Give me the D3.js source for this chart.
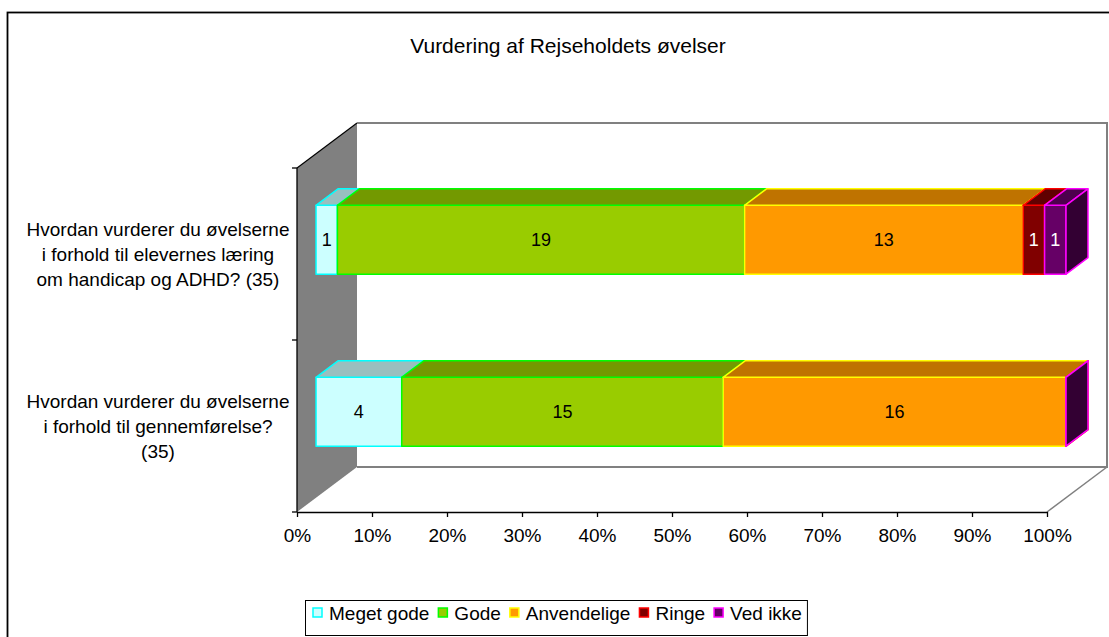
<!DOCTYPE html>
<html>
<head>
<meta charset="utf-8">
<script src="https://cdn.jsdelivr.net/npm/d3@7"></script>
<style>
  body { margin: 0; background: #fff; }
  text { font-family: "Liberation Sans", Arial, sans-serif; fill: #000; }
</style>
</head>
<body>
<svg id="chart" width="1109" height="637"></svg>
<script>
// data
var categories = [
  ["Hvordan vurderer du øvelserne", "i forhold til elevernes læring", "om handicap og ADHD? (35)"],
  ["Hvordan vurderer du øvelserne", "i forhold til gennemførelse?", "(35)"]
];
var seriesNames = ["Meget gode", "Gode", "Anvendelige", "Ringe", "Ved ikke"];
var megetGode   = [1, 4];
var gode        = [19, 15];
var anvendelige = [13, 16];
var ringe       = [1, 0];
var vedIkke     = [1, 0];
var tickValues  = [0, 0.1, 0.2, 0.3, 0.4, 0.5, 0.6, 0.7, 0.8, 0.9, 1];

var fills   = ["#CCFFFF", "#99CC00", "#FF9900", "#800000", "#660066"];
var strokes = ["#00FFFF", "#00FF00", "#FFFF00", "#FF0000", "#FF00FF"];
var labelColors = ["#000", "#000", "#000", "#fff", "#fff"];

var seriesValues = [megetGode, gode, anvendelige, ringe, vedIkke];

// layout
var plot = {left: 297, right: 1047, top: 168, bottom: 512};
var depth = {dx: 60, dy: -45};
var barD0 = 0.317, barD1 = 0.683;

var svg = d3.select("#chart");

// outer chart border
svg.append("rect")
    .attr("x", 7.5).attr("y", 12.5)
    .attr("width", 1200).attr("height", 700)
    .attr("fill", "none").attr("stroke", "#000").attr("stroke-width", 1.8);

// title
svg.append("text")
    .attr("x", 568).attr("y", 53)
    .attr("text-anchor", "middle")
    .style("font-size", "21px")
    .text("Vurdering af Rejseholdets øvelser");

var x = d3.scaleLinear().domain([0, 1]).range([plot.left, plot.right]);
var y = d3.scaleBand().domain(d3.range(categories.length)).range([plot.top, plot.bottom]);

function proj(px, py, d) { return [px + depth.dx * d, py + depth.dy * d]; }
function poly(pts) { return pts.map(function(p) { return p.join(","); }).join(" "); }
function shade(c, f) { var r = d3.rgb(c); return d3.rgb(r.r * f, r.g * f, r.b * f).toString(); }

// left side wall
svg.append("polygon")
    .attr("points", poly([proj(plot.left, plot.top, 0), proj(plot.left, plot.top, 1),
                          proj(plot.left, plot.bottom, 1), proj(plot.left, plot.bottom, 0)]))
    .attr("fill", "#808080").attr("stroke", "none");
svg.append("line")
    .attr("x1", plot.left).attr("y1", plot.top)
    .attr("x2", proj(plot.left, plot.top, 1)[0]).attr("y2", proj(plot.left, plot.top, 1)[1])
    .attr("stroke", "#000").attr("stroke-width", 1.2);

// back wall outline
var bTL = proj(plot.left, plot.top, 1), bTR = proj(plot.right, plot.top, 1),
    bBR = proj(plot.right, plot.bottom, 1), bBL = proj(plot.left, plot.bottom, 1);
svg.append("polyline")
    .attr("points", poly([bTL, bTR, bBR, bBL]))
    .attr("fill", "none").attr("stroke", "#808080").attr("stroke-width", 2);
svg.append("line")
    .attr("x1", plot.right).attr("y1", plot.bottom)
    .attr("x2", bBR[0]).attr("y2", bBR[1])
    .attr("stroke", "#808080").attr("stroke-width", 1.5);

// x axis
var xAxis = svg.append("g")
    .attr("transform", "translate(0," + plot.bottom + ")")
    .call(d3.axisBottom(x).tickValues(tickValues).tickSize(5).tickSizeOuter(0)
        .tickFormat(d3.format(".0%")));
xAxis.select(".domain").attr("stroke", "#000").attr("stroke-width", 1.3);
xAxis.selectAll(".tick line").attr("stroke", "#000").attr("stroke-width", 1.3);
xAxis.selectAll(".tick text")
    .attr("y", 11).attr("dy", "1em")
    .style("font-size", "19px")
    .style("font-family", "Liberation Sans, Arial, sans-serif");

// y axis (category boundaries)
svg.append("line")
    .attr("x1", plot.left).attr("y1", plot.top).attr("x2", plot.left).attr("y2", plot.bottom)
    .attr("stroke", "#000").attr("stroke-width", 1.3);
var bounds = y.domain().map(function(i) { return y(i); }).concat([plot.bottom]);
svg.selectAll(".ytick").data(bounds).enter().append("line")
    .attr("x1", plot.left - 5).attr("x2", plot.left)
    .attr("y1", function(d) { return d; }).attr("y2", function(d) { return d; })
    .attr("stroke", "#000").attr("stroke-width", 1.3);

// category labels
categories.forEach(function(lines, i) {
  var cy = y(i) + y.bandwidth() / 2 + 7;
  var t = svg.append("text")
      .attr("text-anchor", "middle")
      .style("font-size", "19px");
  lines.forEach(function(l, k) {
    t.append("tspan").attr("x", 158).attr("y", cy + (k - 1) * 25).text(l);
  });
});

// bars
var barH = y.bandwidth() * 0.4;
var labels = [];
categories.forEach(function(c, i) {
  var total = d3.sum(seriesValues, function(s) { return s[i]; });
  var yTop = y(i) + (y.bandwidth() - barH) / 2, yBot = yTop + barH;
  var cum = 0;
  var g = svg.append("g");
  seriesValues.forEach(function(s, k) {
    var v0 = cum / total, v1 = (cum + s[i]) / total;
    cum += s[i];
    var x0 = x(v0), x1 = x(v1);
    var f = fills[k], st = strokes[k];
    // front face
    g.append("polygon")
        .attr("points", poly([proj(x0, yTop, barD0), proj(x1, yTop, barD0),
                              proj(x1, yBot, barD0), proj(x0, yBot, barD0)]))
        .attr("fill", f).attr("stroke", st).attr("stroke-width", 1.5).attr("stroke-linejoin", "round");
    // top face
    g.append("polygon")
        .attr("points", poly([proj(x0, yTop, barD0), proj(x1, yTop, barD0),
                              proj(x1, yTop, barD1), proj(x0, yTop, barD1)]))
        .attr("fill", shade(f, 0.75)).attr("stroke", st).attr("stroke-width", 1.5).attr("stroke-linejoin", "round");
    // right face
    g.append("polygon")
        .attr("points", poly([proj(x1, yTop, barD0), proj(x1, yTop, barD1),
                              proj(x1, yBot, barD1), proj(x1, yBot, barD0)]))
        .attr("fill", shade(f, 0.5)).attr("stroke", st).attr("stroke-width", 1.5).attr("stroke-linejoin", "round");
    if (s[i] > 0) {
      var p = proj((x0 + x1) / 2, (yTop + yBot) / 2, barD0);
      labels.push({x: p[0], y: p[1], v: s[i], c: labelColors[k]});
    }
  });
});

svg.selectAll(".vlabel").data(labels).enter().append("text")
    .attr("x", function(d) { return d.x; })
    .attr("y", function(d) { return d.y + 6.5; })
    .attr("text-anchor", "middle")
    .style("font-size", "18px")
    .style("fill", function(d) { return d.c; })
    .text(function(d) { return d.v; });

// legend
var legend = svg.append("g");
var lx = 313, ly = 613;
seriesNames.forEach(function(name, k) {
  var it = legend.append("g");
  it.append("rect")
      .attr("x", lx).attr("y", ly - 5).attr("width", 9).attr("height", 9)
      .attr("fill", fills[k]).attr("stroke", strokes[k]).attr("stroke-width", 1.5);
  var t = it.append("text")
      .attr("x", lx + 16).attr("y", ly + 7)
      .style("font-size", "19px")
      .text(name);
  lx += 16 + t.node().getComputedTextLength() + 9;
});
legend.insert("rect", ":first-child")
    .attr("x", 305.5).attr("y", 600.5)
    .attr("width", lx - 305 - 4).attr("height", 35)
    .attr("fill", "#fff").attr("stroke", "#000").attr("stroke-width", 1);
</script>
</body>
</html>
